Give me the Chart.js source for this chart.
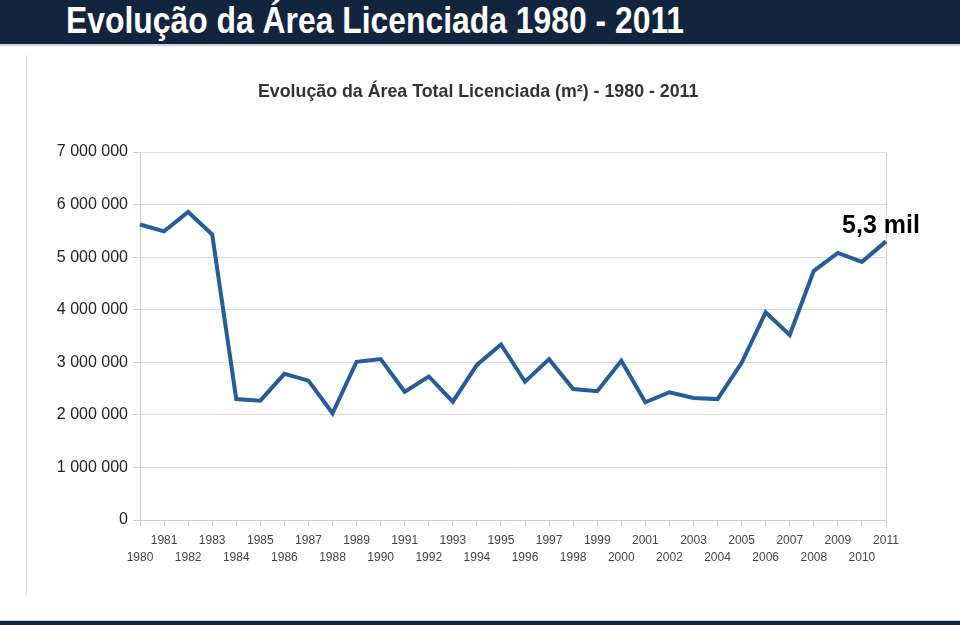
<!DOCTYPE html>
<html>
<head>
<meta charset="utf-8">
<script src="https://cdn.jsdelivr.net/npm/chart.js@4.4.1/dist/chart.umd.min.js"></script>
<style>
  html, body { margin: 0; padding: 0; background: #fff; }
  body { width: 960px; height: 625px; position: relative; overflow: hidden; font-family: "Liberation Sans", Arial, sans-serif; }
  #header {
    position: absolute; left: 0; top: 0; width: 960px; height: 44px;
    background: #13243f; border-bottom: 2px solid #c9d4e4; z-index: 2;
  }
  #header h1 {
    margin: 0; position: absolute; left: 66px; top: 1px;
    font-family: "Liberation Sans", Arial, sans-serif;
    font-weight: bold; font-size: 36px; line-height: 40px; color: #fff; white-space: nowrap;
    transform: scaleX(0.885); transform-origin: 0 0;
  }
  #footer {
    position: absolute; left: 0; top: 620px; width: 960px; height: 5px;
    background: #13243f; border-top: 1px solid #c9d4e4; z-index: 2;
  }
  #frame {
    position: absolute; left: 26px; top: 55px; width: 1px; height: 540px; background: #e2e2e2;
  }
  #title {
    position: absolute; left: 258px; width: 440px; top: 80px; text-align: center;
    font-weight: bold; font-size: 17.8px; line-height: 22px; color: #333; white-space: nowrap;
  }
  #wrap { position: absolute; left: 0; top: 0; width: 960px; height: 625px; }
</style>
</head>
<body>
<div id="wrap"><canvas id="chart" width="960" height="625"></canvas></div>
<div id="frame"></div>
<div id="title">Evolução da Área Total Licenciada (m²) - 1980 - 2011</div>
<div id="header"><h1>Evolução da Área Licenciada 1980 - 2011</h1></div>
<div id="footer"></div>
<script>
  const years = ['1980','1981','1982','1983','1984','1985','1986','1987','1988','1989',
                 '1990','1991','1992','1993','1994','1995','1996','1997','1998','1999',
                 '2000','2001','2002','2003','2004','2005','2006','2007','2008','2009',
                 '2010','2011'];
  const area = [5620000, 5490000, 5860000, 5430000, 2300000, 2270000, 2780000, 2650000, 2030000, 3010000,
                3060000, 2440000, 2730000, 2250000, 2950000, 3340000, 2630000, 3060000, 2490000, 2450000,
                3030000, 2240000, 2430000, 2320000, 2300000, 2990000, 3950000, 3520000, 4740000, 5080000,
                4910000, 5300000];
  const lastLabel = '5,3 mil';

  const fmt = v => v.toString().replace(/\B(?=(\d{3})+(?!\d))/g, ' ');

  // texto do último valor, junto ao ponto de 2011
  const lastNote = {
    id: 'lastNote',
    afterDatasetsDraw(chart) {
      const pts = chart.getDatasetMeta(0).data;
      const p = pts[pts.length - 1];
      const ctx = chart.ctx;
      ctx.save();
      ctx.font = 'bold 25px "Liberation Sans", Arial, sans-serif';
      ctx.fillStyle = '#000';
      ctx.textAlign = 'center';
      ctx.textBaseline = 'middle';
      ctx.fillText(lastLabel, p.x - 5, p.y - 15);
      ctx.restore();
    }
  };

  new Chart(document.getElementById('chart'), {
    type: 'line',
    data: {
      labels: years,
      datasets: [{
        data: area,
        borderColor: '#255c9c',
        borderWidth: 4,
        pointRadius: 0,
        tension: 0,
        fill: false
      }]
    },
    options: {
      responsive: false,
      animation: false,
      layout: { padding: { left: 0, right: 74, top: 152, bottom: 45 } },
      plugins: {
        legend: { display: false },
        tooltip: { enabled: false },
        title: { display: false }
      },
      scales: {
        x: {
          offset: false,
          afterFit(scale) { scale.height = 60; },
          grid: {
            drawOnChartArea: true,
            color: c => c.index === years.length - 1 ? '#d6d6d6' : 'rgba(0,0,0,0)',
            tickColor: '#cfcfcf',
            tickLength: 6
          },
          border: { display: true, color: '#cfcfcf' },
          ticks: {
            autoSkip: false,
            maxRotation: 0,
            padding: 6,
            color: '#444',
            font: { family: '"Liberation Sans", Arial, sans-serif', size: 12, lineHeight: 1.4 },
            callback(v, i) {
              const y = years[i];
              return i % 2 === 1 ? [y] : ['', y];
            }
          }
        },
        y: {
          min: 0,
          max: 7000000,
          afterFit(scale) { scale.width = 140; },
          grid: { color: '#dcdcdc', tickColor: '#cfcfcf', tickLength: 7 },
          border: { display: true, color: '#cfcfcf' },
          ticks: {
            stepSize: 1000000,
            padding: 5,
            color: '#222',
            font: { family: '"Liberation Sans", Arial, sans-serif', size: 16 },
            callback: v => fmt(v)
          }
        }
      }
    },
    plugins: [lastNote]
  });
</script>
</body>
</html>
